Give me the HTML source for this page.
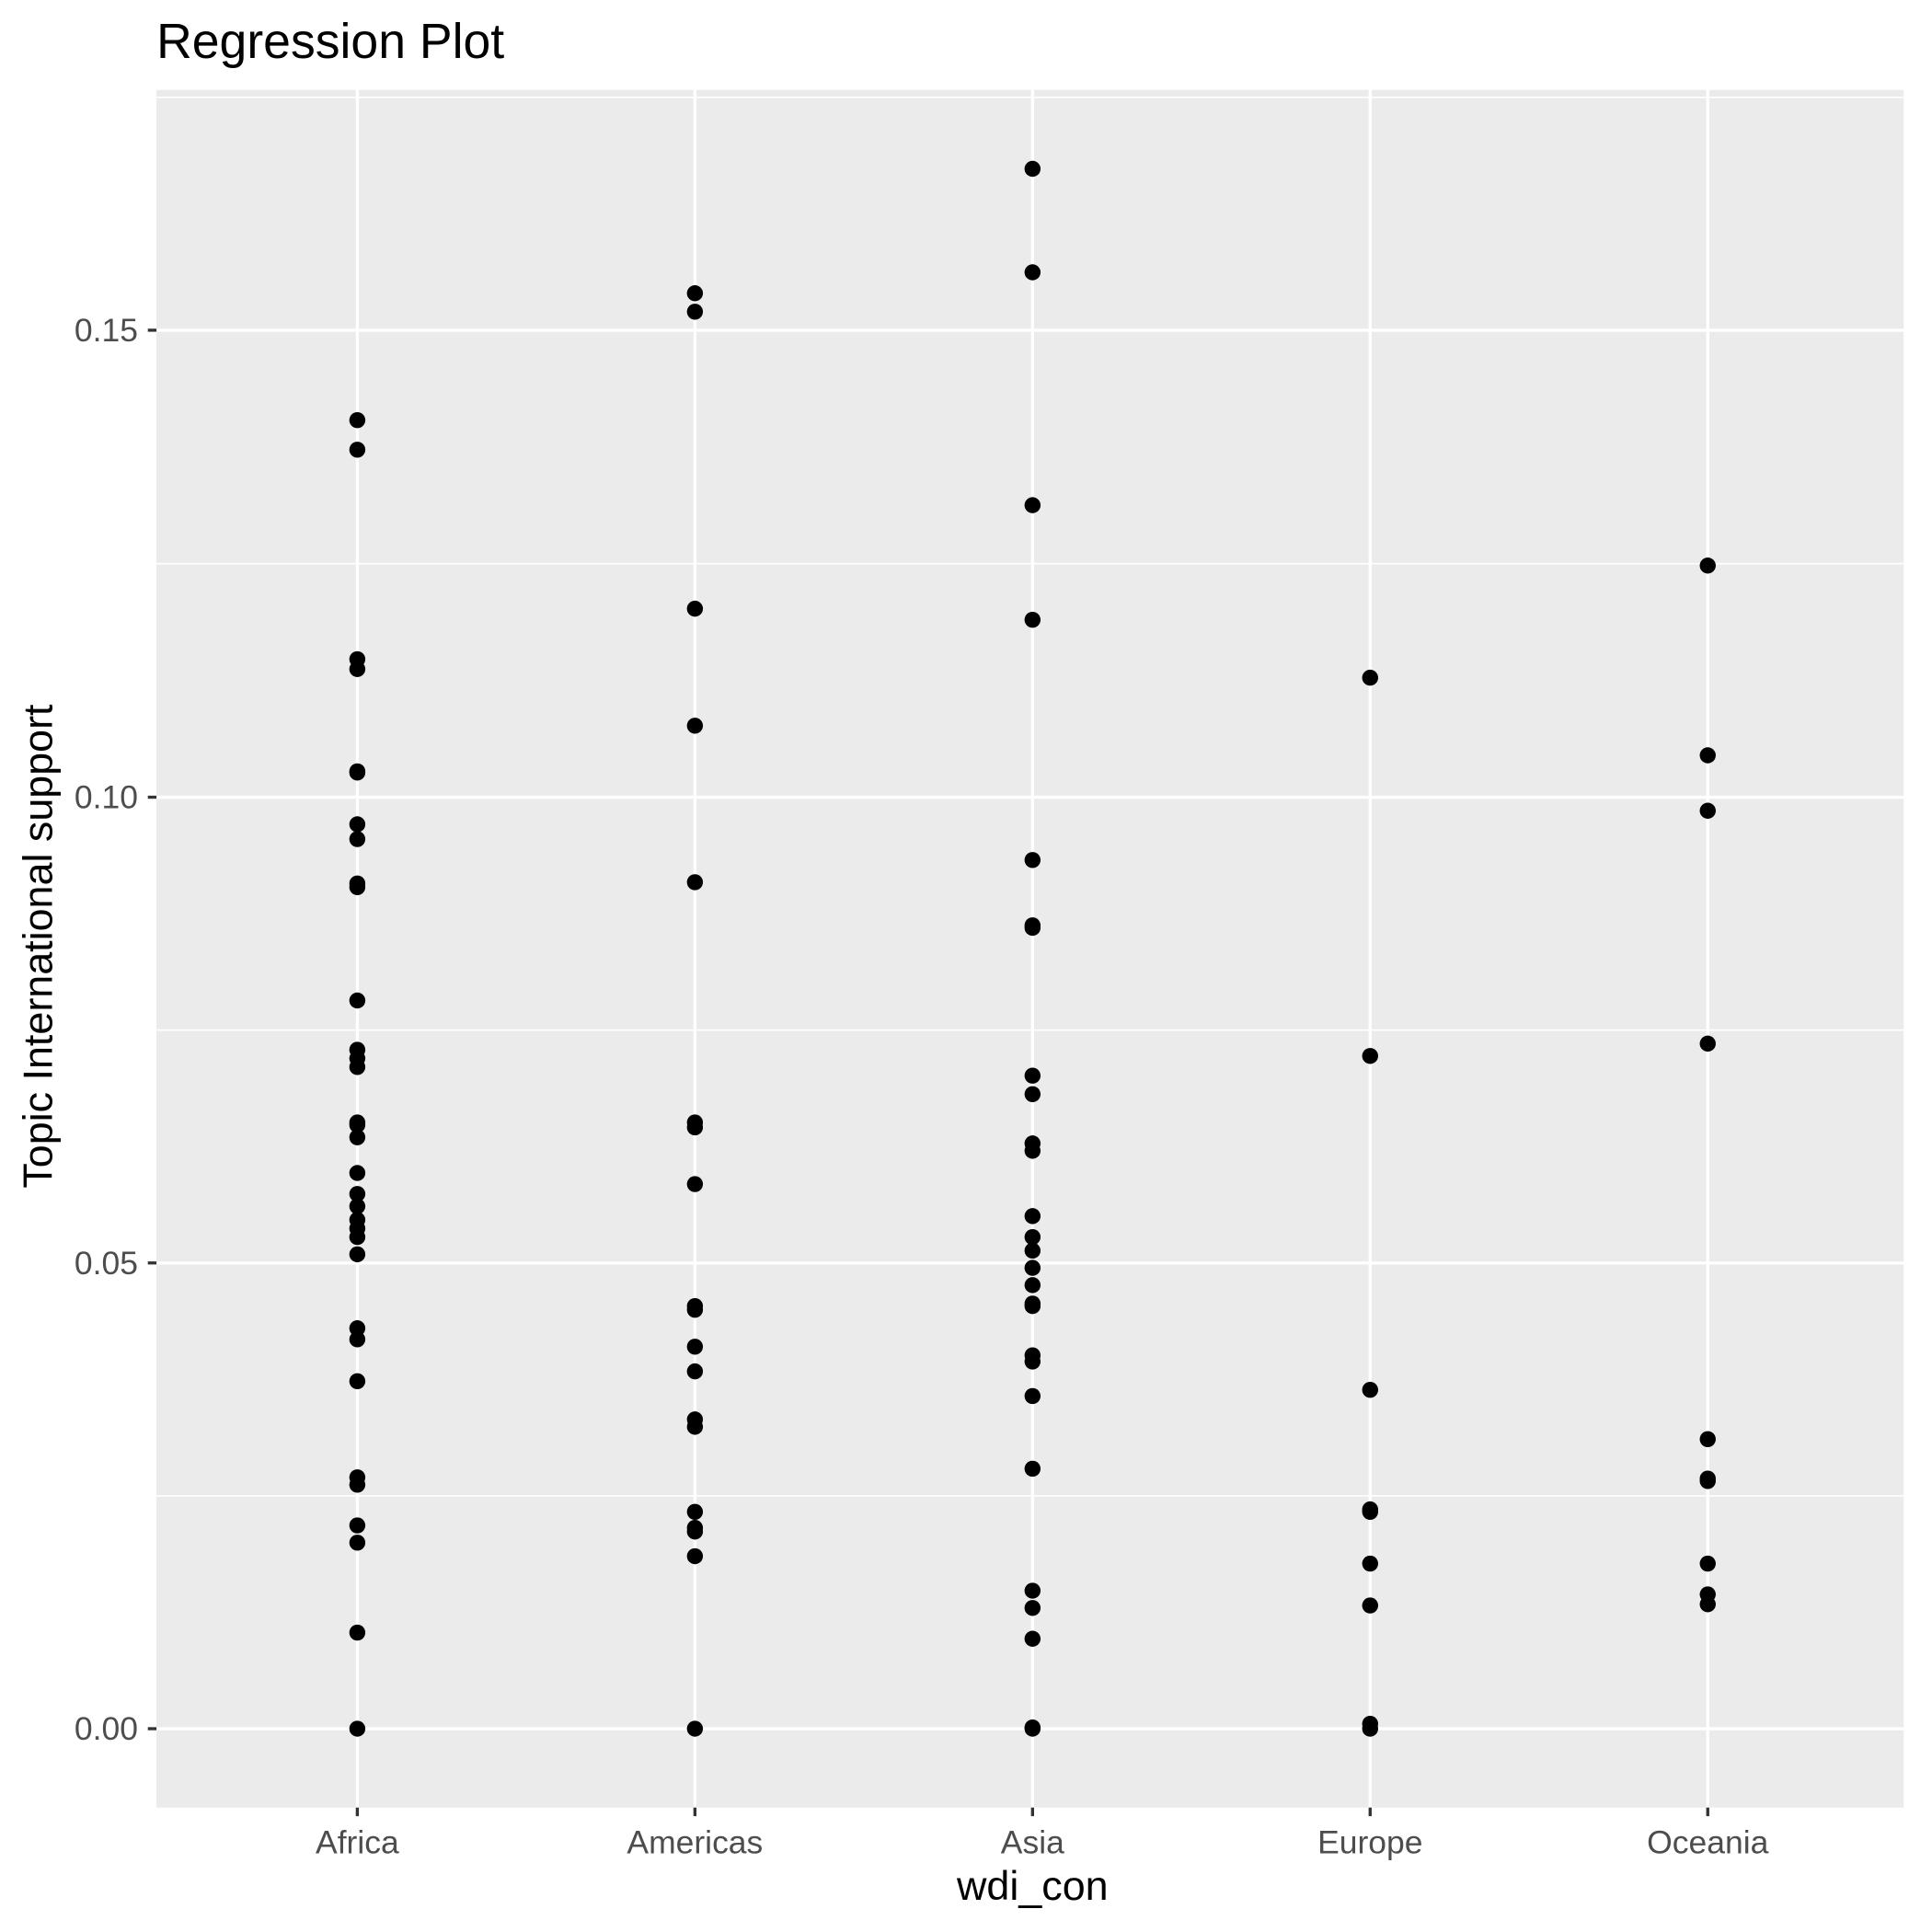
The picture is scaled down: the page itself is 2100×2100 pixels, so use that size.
<!DOCTYPE html>
<html><head><meta charset="utf-8"><style>html,body{margin:0;padding:0;background:#fff}svg{display:block}</style></head>
<body>
<svg width="2100" height="2100" viewBox="0 0 1568 1568" xmlns="http://www.w3.org/2000/svg" font-family="Liberation Sans, sans-serif">
<rect width="1568" height="1568" fill="#fff"/>
<rect x="127" y="73" width="1418" height="1394" fill="#ebebeb"/>
<g stroke="#fff" stroke-width="1.2">
<line x1="127" x2="1545" y1="79" y2="79"/><line x1="127" x2="1545" y1="457.5" y2="457.5"/><line x1="127" x2="1545" y1="836" y2="836"/><line x1="127" x2="1545" y1="1214" y2="1214"/>
</g>
<g stroke="#fff" stroke-width="2.5">
<line x1="127" x2="1545" y1="268" y2="268"/><line x1="127" x2="1545" y1="647" y2="647"/><line x1="127" x2="1545" y1="1025" y2="1025"/><line x1="127" x2="1545" y1="1403" y2="1403"/>
<line y1="73" y2="1467" x1="290" x2="290"/><line y1="73" y2="1467" x1="564" x2="564"/><line y1="73" y2="1467" x1="838" x2="838"/><line y1="73" y2="1467" x1="1112" x2="1112"/><line y1="73" y2="1467" x1="1386" x2="1386"/>
</g>
<g stroke="#333" stroke-width="2.5">
<line x1="120" x2="127" y1="268" y2="268"/><line x1="120" x2="127" y1="647" y2="647"/><line x1="120" x2="127" y1="1025" y2="1025"/><line x1="120" x2="127" y1="1403" y2="1403"/>
<line y1="1467" y2="1474" x1="290" x2="290"/><line y1="1467" y2="1474" x1="564" x2="564"/><line y1="1467" y2="1474" x1="838" x2="838"/><line y1="1467" y2="1474" x1="1112" x2="1112"/><line y1="1467" y2="1474" x1="1386" x2="1386"/>
</g>
<g fill="#4d4d4d" font-size="26.5" text-anchor="end">
<text x="112" y="277">0.15</text><text x="112" y="656">0.10</text><text x="112" y="1034">0.05</text><text x="112" y="1412">0.00</text>
</g>
<g fill="#4d4d4d" font-size="26.5" text-anchor="middle">
<text x="290" y="1504">Africa</text><text x="564" y="1504">Americas</text><text x="838" y="1504">Asia</text><text x="1112" y="1504">Europe</text><text x="1386" y="1504">Oceania</text>
</g>
<text x="838" y="1542" font-size="33.5" text-anchor="middle">wdi_con</text>
<text transform="translate(42,768) rotate(-90)" font-size="33.5" text-anchor="middle">Topic International support</text>
<text x="127" y="47" font-size="40">Regression Plot</text>
<g fill="#000">
<circle cx="290" cy="341" r="6.5"/><circle cx="290" cy="365" r="6.5"/><circle cx="290" cy="535" r="6.5"/><circle cx="290" cy="543" r="6.5"/><circle cx="290" cy="626" r="6.5"/><circle cx="290" cy="627" r="6.5"/><circle cx="290" cy="669" r="6.5"/><circle cx="290" cy="681" r="6.5"/><circle cx="290" cy="717" r="6.5"/><circle cx="290" cy="720" r="6.5"/><circle cx="290" cy="812" r="6.5"/><circle cx="290" cy="852" r="6.5"/><circle cx="290" cy="859" r="6.5"/><circle cx="290" cy="866" r="6.5"/><circle cx="290" cy="911" r="6.5"/><circle cx="290" cy="913" r="6.5"/><circle cx="290" cy="923" r="6.5"/><circle cx="290" cy="952" r="6.5"/><circle cx="290" cy="969" r="6.5"/><circle cx="290" cy="979" r="6.5"/><circle cx="290" cy="990" r="6.5"/><circle cx="290" cy="997" r="6.5"/><circle cx="290" cy="1004" r="6.5"/><circle cx="290" cy="1018" r="6.5"/><circle cx="290" cy="1078" r="6.5"/><circle cx="290" cy="1087" r="6.5"/><circle cx="290" cy="1121" r="6.5"/><circle cx="290" cy="1199" r="6.5"/><circle cx="290" cy="1205" r="6.5"/><circle cx="290" cy="1238" r="6.5"/><circle cx="290" cy="1252" r="6.5"/><circle cx="290" cy="1325" r="6.5"/><circle cx="290" cy="1403" r="6.5"/>
<circle cx="564" cy="238" r="6.5"/><circle cx="564" cy="253" r="6.5"/><circle cx="564" cy="494" r="6.5"/><circle cx="564" cy="589" r="6.5"/><circle cx="564" cy="716" r="6.5"/><circle cx="564" cy="911" r="6.5"/><circle cx="564" cy="915" r="6.5"/><circle cx="564" cy="961" r="6.5"/><circle cx="564" cy="1060" r="6.5"/><circle cx="564" cy="1063" r="6.5"/><circle cx="564" cy="1093" r="6.5"/><circle cx="564" cy="1113" r="6.5"/><circle cx="564" cy="1152" r="6.5"/><circle cx="564" cy="1158" r="6.5"/><circle cx="564" cy="1227" r="6.5"/><circle cx="564" cy="1240" r="6.5"/><circle cx="564" cy="1243" r="6.5"/><circle cx="564" cy="1263" r="6.5"/><circle cx="564" cy="1403" r="6.5"/>
<circle cx="838" cy="137" r="6.5"/><circle cx="838" cy="221" r="6.5"/><circle cx="838" cy="410" r="6.5"/><circle cx="838" cy="503" r="6.5"/><circle cx="838" cy="698" r="6.5"/><circle cx="838" cy="751" r="6.5"/><circle cx="838" cy="753" r="6.5"/><circle cx="838" cy="873" r="6.5"/><circle cx="838" cy="888" r="6.5"/><circle cx="838" cy="928" r="6.5"/><circle cx="838" cy="934" r="6.5"/><circle cx="838" cy="987" r="6.5"/><circle cx="838" cy="1004" r="6.5"/><circle cx="838" cy="1015" r="6.5"/><circle cx="838" cy="1029" r="6.5"/><circle cx="838" cy="1043" r="6.5"/><circle cx="838" cy="1058" r="6.5"/><circle cx="838" cy="1060" r="6.5"/><circle cx="838" cy="1100" r="6.5"/><circle cx="838" cy="1105" r="6.5"/><circle cx="838" cy="1133" r="6.5"/><circle cx="838" cy="1192" r="6.5"/><circle cx="838" cy="1291" r="6.5"/><circle cx="838" cy="1305" r="6.5"/><circle cx="838" cy="1330" r="6.5"/><circle cx="838" cy="1402" r="6.5"/><circle cx="838" cy="1403" r="6.5"/>
<circle cx="1112" cy="550" r="6.5"/><circle cx="1112" cy="857" r="6.5"/><circle cx="1112" cy="1128" r="6.5"/><circle cx="1112" cy="1225" r="6.5"/><circle cx="1112" cy="1227" r="6.5"/><circle cx="1112" cy="1269" r="6.5"/><circle cx="1112" cy="1303" r="6.5"/><circle cx="1112" cy="1399" r="6.5"/><circle cx="1112" cy="1403" r="6.5"/>
<circle cx="1386" cy="459" r="6.5"/><circle cx="1386" cy="613" r="6.5"/><circle cx="1386" cy="658" r="6.5"/><circle cx="1386" cy="847" r="6.5"/><circle cx="1386" cy="1168" r="6.5"/><circle cx="1386" cy="1200" r="6.5"/><circle cx="1386" cy="1202" r="6.5"/><circle cx="1386" cy="1269" r="6.5"/><circle cx="1386" cy="1294" r="6.5"/><circle cx="1386" cy="1302" r="6.5"/>
</g>
</svg>
</body></html>
